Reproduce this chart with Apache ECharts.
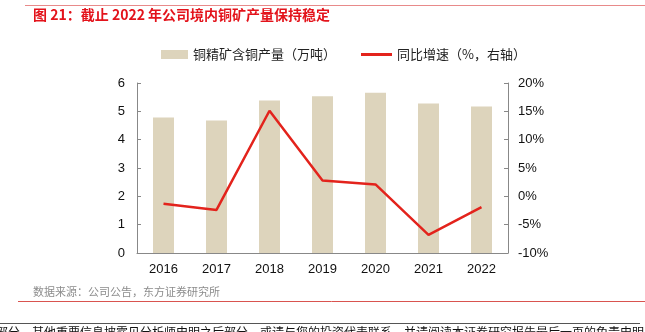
<!DOCTYPE html>
<html><head><meta charset="utf-8">
<script src="https://cdn.jsdelivr.net/npm/echarts@6/dist/echarts.min.js"></script>
<style>html,body{margin:0;padding:0;background:#fff;}#c{width:645px;height:332px;}</style>
</head><body><div id="c"></div>
<script>
var categories = ['2016','2017','2018','2019','2020','2021','2022'];
var production = [4.78, 4.68, 5.38, 5.53, 5.66, 5.28, 5.17];
var growth = [-1.3, -2.4, 15.1, 2.8, 2.1, -6.8, -1.9];
var leftTicks = {min:0, max:6, interval:1};
var rightTicks = {min:-10, max:20, interval:5};

var font = '"Liberation Sans", Arial, "Noto Sans CJK SC", sans-serif';
var cjk = '"Noto Sans CJK SC", sans-serif';
var chart = echarts.init(document.getElementById('c'), null, {renderer:'canvas'});
chart.setOption({
  animation:false,
  backgroundColor:'#fff',
  textStyle:{fontFamily:font},
  graphic:[
    {type:'line', shape:{x1:25,y1:5.5,x2:645,y2:5.5}, style:{stroke:'#e88a8a', lineWidth:1}},
    {type:'text', left:33, top:8, style:{text:'图 21：截止 2022 年公司境内铜矿产量保持稳定', fill:'#e3131b', font:'bold 14px '+cjk}},
    {type:'text', left:33, top:286, style:{text:'数据来源：公司公告，东方证券研究所', fill:'#8c8c8c', font:'11px '+cjk}},
    {type:'line', shape:{x1:18,y1:301.5,x2:645,y2:301.5}, style:{stroke:'#d9534f', lineWidth:1}},
    {type:'line', shape:{x1:0,y1:323.5,x2:640,y2:323.5}, style:{stroke:'#555', lineWidth:1}},
    {type:'text', left:-4, top:326, style:{text:'部分，其他重要信息披露见分析师申明之后部分，或请与您的投资代表联系，并请阅读本证券研究报告最后一页的免责申明。', fill:'#111', font:'12px '+cjk}}
  ],
  legend:[
    {data:['铜精矿含铜产量（万吨）'], left:156, top:43, itemWidth:27, itemHeight:9, itemGap:8, icon:'rect',
     textStyle:{fontSize:13, color:'#222', fontFamily:cjk}},
    {data:['同比增速（%，右轴）'], left:356, top:43, itemWidth:31, itemHeight:3, itemGap:5, icon:'rect',
     textStyle:{fontSize:13, color:'#222', fontFamily:cjk}}
  ],
  grid:{left:137, right:137, top:83, bottom:79},
  xAxis:{type:'category', data:categories, boundaryGap:true,
    axisLine:{lineStyle:{color:'#888'}},
    axisTick:{inside:true, length:4, lineStyle:{color:'#888'}},
    axisLabel:{color:'#111', fontSize:13, margin:10}},
  yAxis:[
    {type:'value', min:leftTicks.min, max:leftTicks.max, interval:leftTicks.interval,
     axisLine:{show:true, lineStyle:{color:'#888'}},
     axisTick:{show:true, inside:true, length:4, lineStyle:{color:'#888'}},
     splitLine:{show:false},
     axisLabel:{color:'#111', fontSize:13, margin:12}},
    {type:'value', min:rightTicks.min, max:rightTicks.max, interval:rightTicks.interval,
     axisLine:{show:true, lineStyle:{color:'#888'}},
     axisTick:{show:true, inside:true, length:4, lineStyle:{color:'#888'}},
     splitLine:{show:false},
     axisLabel:{color:'#111', fontSize:13, margin:10, formatter:'{value}%'}}
  ],
  series:[
    {name:'铜精矿含铜产量（万吨）', type:'bar', data:production, barWidth:21,
     itemStyle:{color:'#ddd4bc'}},
    {name:'同比增速（%，右轴）', type:'line', yAxisIndex:1, data:growth,
     symbol:'none', lineStyle:{color:'#e3231c', width:2.5}, itemStyle:{color:'#e3231c'}}
  ]
});
</script></body></html>
